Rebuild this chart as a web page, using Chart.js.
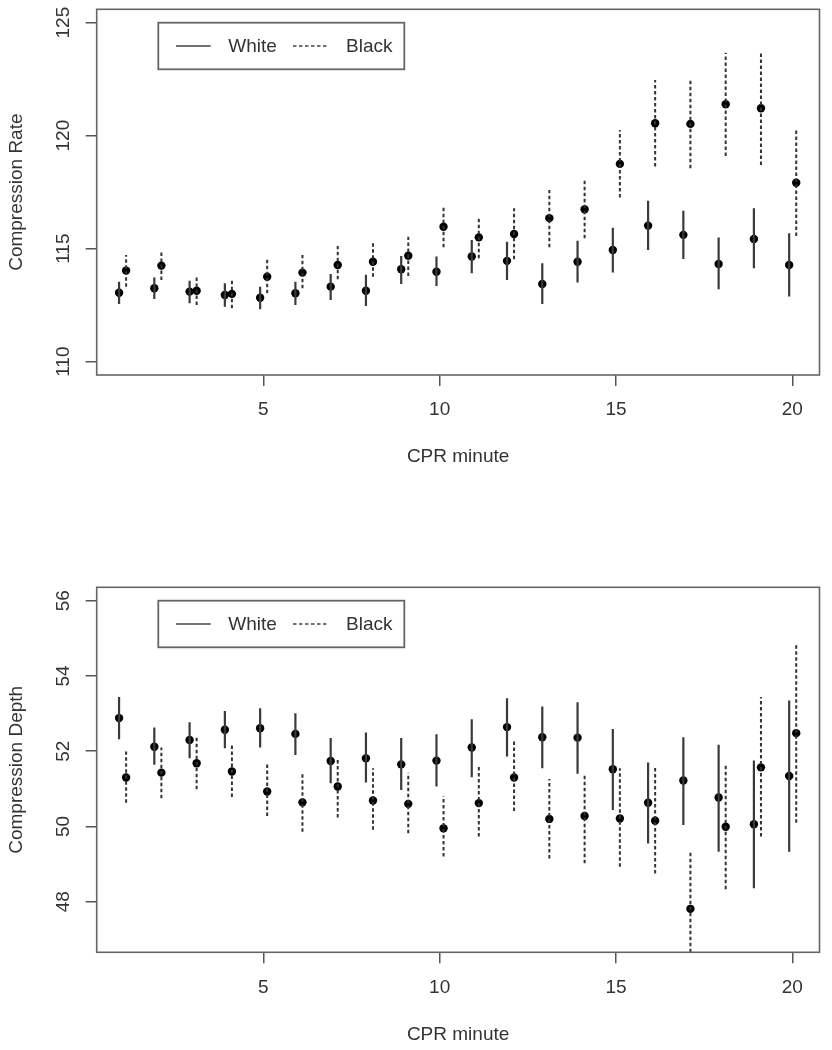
<!DOCTYPE html>
<html><head><meta charset="utf-8">
<script src="https://cdn.jsdelivr.net/npm/chart.js@4"></script>
<style>
body{margin:0;background:#fff;}
.w{position:absolute;left:0;width:832px;height:525px;}
</style>
</head><body>
<div class="w" style="top:0"><canvas id="c1" width="832" height="525"></canvas></div>
<div class="w" style="top:525px"><canvas id="c2" width="832" height="525"></canvas></div>
<script>
// ---------- DATA ----------
const minutes = [1,2,3,4,5,6,7,8,9,10,11,12,13,14,15,16,17,18,19,20];
const seriesNames = ["White", "Black"];

const rateWhite   = [113.05,113.25,113.10,112.95,112.83,113.03,113.32,113.14,114.09,113.98,114.65,114.46,113.44,114.42,114.94,116.02,115.61,114.32,115.43,114.28];
const rateWhiteLo = [112.55,112.77,112.58,112.43,112.32,112.51,112.73,112.46,113.44,113.35,113.91,113.61,112.55,113.50,113.94,114.94,114.54,113.20,114.13,112.88];
const rateWhiteHi = [113.54,113.72,113.58,113.47,113.32,113.54,113.88,113.84,114.68,114.65,115.38,115.31,114.35,115.35,115.93,117.12,116.68,115.49,116.79,115.68];
const rateBlack   = [114.03,114.25,113.14,113.00,113.76,113.94,114.28,114.42,114.69,115.97,115.50,115.65,116.35,116.74,118.75,120.55,120.52,121.39,121.21,117.92];
const rateBlackLo = [113.32,113.61,112.51,112.36,113.03,113.25,113.65,113.76,113.79,115.06,114.58,114.53,115.06,115.46,117.26,118.63,118.56,119.10,118.70,115.56];
const rateBlackHi = [114.72,114.94,113.79,113.69,114.53,114.72,115.12,115.27,115.53,116.89,116.42,116.79,117.60,118.01,120.25,122.46,122.46,123.67,123.67,120.30];

const depthWhite   = [52.88,52.12,52.30,52.57,52.61,52.46,51.74,51.81,51.65,51.75,52.10,52.64,52.37,52.36,51.52,50.63,51.22,50.77,50.06,51.34];
const depthWhiteLo = [52.32,51.64,51.81,52.08,52.10,51.90,51.15,51.17,50.97,51.06,51.31,51.86,51.55,51.40,50.44,49.55,50.04,49.33,48.36,49.33];
const depthWhiteHi = [53.44,52.63,52.77,53.07,53.14,53.01,52.35,52.50,52.35,52.45,52.85,53.41,53.19,53.30,52.59,51.70,52.37,52.17,51.75,53.35];
const depthBlack   = [51.30,51.43,51.68,51.46,50.93,50.64,51.06,50.69,50.60,49.95,50.62,51.30,50.20,50.28,50.21,50.15,47.81,49.99,51.57,52.48];
const depthBlackLo = [50.63,50.75,50.99,50.78,50.28,49.86,50.24,49.91,49.82,49.20,49.73,50.41,49.15,49.02,48.93,48.75,46.50,48.33,49.73,50.10];
const depthBlackHi = [51.99,52.10,52.37,52.15,51.68,51.41,51.81,51.55,51.43,50.81,51.59,52.28,51.26,51.40,51.55,51.59,49.30,51.65,53.44,54.83];

const xTicks = [5, 10, 15, 20];
const rateTicks = [110, 115, 120, 125];
const depthTicks = [48, 50, 52, 54, 56];

// ---------- STYLE / LAYOUT ----------
const FONT_FAMILY = '"Liberation Sans", Arial, Helvetica, sans-serif';
const FS = 19;
const TXT = '#333';
const DODGE_W = -0.09, DODGE_B = 0.11;

function measure(text) {
  const c = document.createElement('canvas').getContext('2d');
  c.font = FS + 'px ' + FONT_FAMILY;
  return c.measureText(text).width;
}

const boxPlugin = {
  id: 'rbox',
  afterDatasetsDraw(chart) {
    const {ctx, chartArea: a} = chart;
    ctx.save();
    ctx.strokeStyle = '#666';
    ctx.lineWidth = 1.6;
    ctx.strokeRect(a.left, a.top, a.right - a.left, a.bottom - a.top);
    ctx.restore();
  }
};

const legendPlugin = {
  id: 'rlegend',
  afterDraw(chart) {
    const {ctx, chartArea: a} = chart;
    const x0 = a.left + 61.6, y0 = a.top + 13.4, w = 246, h = 46.6;
    const cy = y0 + h / 2;
    ctx.save();
    ctx.fillStyle = '#fff';
    ctx.fillRect(x0, y0, w, h);
    ctx.strokeStyle = '#666';
    ctx.lineWidth = 1.8;
    ctx.strokeRect(x0, y0, w, h);
    ctx.strokeStyle = '#444';
    ctx.lineWidth = 1.6;
    ctx.beginPath(); ctx.moveTo(x0 + 17.7, cy); ctx.lineTo(x0 + 52.4, cy); ctx.stroke();
    ctx.setLineDash([3.5, 2.5]);
    ctx.beginPath(); ctx.moveTo(x0 + 134.7, cy); ctx.lineTo(x0 + 168.7, cy); ctx.stroke();
    ctx.setLineDash([]);
    ctx.fillStyle = TXT;
    ctx.font = FS + 'px ' + FONT_FAMILY;
    ctx.textBaseline = 'middle';
    ctx.textAlign = 'left';
    ctx.fillText(seriesNames[0], x0 + 70, cy + 1);
    ctx.fillText(seriesNames[1], x0 + 187.7, cy + 1);
    ctx.restore();
  }
};

function errData(lo, hi, dodge) {
  const out = [];
  minutes.forEach((m, i) => {
    out.push({x: m + dodge, y: lo[i]});
    out.push({x: m + dodge, y: hi[i]});
    out.push({x: m + dodge, y: null});
  });
  return out;
}
function ptData(vals, dodge) {
  return minutes.map((m, i) => ({x: m + dodge, y: vals[i]}));
}

function makeChart(id, o) {
  const yTickVals = o.yTicks;
  const widest = Math.max(...yTickVals.map(v => measure(String(v))));
  const yTickPad = 96.7 - 11 - 63.3 - widest / 2;
  new Chart(document.getElementById(id), {
    type: 'scatter',
    data: {
      datasets: [
        {label: seriesNames[0] + ' CI', data: errData(o.wLo, o.wHi, DODGE_W), showLine: true, spanGaps: false,
         borderColor: '#3a3a3a', borderWidth: 2.2, pointRadius: 0, pointHoverRadius: 0},
        {label: seriesNames[1] + ' CI', data: errData(o.bLo, o.bHi, DODGE_B), showLine: true, spanGaps: false,
         borderColor: '#333', borderWidth: 2, borderDash: [3.5, 2.5], pointRadius: 0, pointHoverRadius: 0},
        {label: seriesNames[0], data: ptData(o.w, DODGE_W), showLine: false,
         pointRadius: 4.2, backgroundColor: '#000', borderColor: '#000', borderWidth: 0},
        {label: seriesNames[1], data: ptData(o.b, DODGE_B), showLine: false,
         pointRadius: 4.2, backgroundColor: '#000', borderColor: '#000', borderWidth: 0}
      ]
    },
    options: {
      responsive: false,
      animation: false,
      devicePixelRatio: 1,
      layout: {padding: {left: 0, right: 12.5, top: o.padTop, bottom: o.padBottom}},
      plugins: {legend: {display: false}, tooltip: {enabled: false}},
      scales: {
        x: {
          type: 'linear', position: 'bottom',
          min: 0.276, max: 20.77,
          afterBuildTicks: s => { s.ticks = xTicks.map(v => ({value: v})); },
          afterFit: s => { s.height = o.xH; s.paddingLeft = 0; s.paddingRight = 0; },
          grid: {display: true, drawOnChartArea: false, drawTicks: true, tickLength: 11, color: '#555', lineWidth: 1.5},
          border: {display: false},
          ticks: {padding: o.xTickPad, font: {family: FONT_FAMILY, size: FS}, color: TXT, maxRotation: 0, autoSkip: false},
          title: {display: true, text: 'CPR minute', font: {family: FONT_FAMILY, size: FS}, color: TXT, padding: {top: 0, bottom: 0}}
        },
        y: {
          type: 'linear', position: 'left',
          min: o.yMin, max: o.yMax,
          afterBuildTicks: s => { s.ticks = yTickVals.map(v => ({value: v})); },
          afterFit: s => { s.width = 96.7; s.paddingTop = 0; s.paddingBottom = 0; },
          grid: {display: true, drawOnChartArea: false, drawTicks: true, tickLength: 11, color: '#555', lineWidth: 1.5},
          border: {display: false},
          ticks: {padding: yTickPad, minRotation: 90, maxRotation: 90, crossAlign: 'center', autoSkip: false,
                  font: {family: FONT_FAMILY, size: FS}, color: TXT},
          title: {display: true, text: o.yTitle, font: {family: FONT_FAMILY, size: FS}, color: TXT, padding: {top: 5.3, bottom: 0}}
        }
      }
    },
    plugins: [boxPlugin, legendPlugin]
  });
}

makeChart('c1', {
  w: rateWhite, wLo: rateWhiteLo, wHi: rateWhiteHi,
  b: rateBlack, bLo: rateBlackLo, bHi: rateBlackHi,
  yTicks: rateTicks, yMin: 109.41, yMax: 125.59, yTitle: 'Compression Rate',
  padTop: 9.3, padBottom: 56.9, xH: 93.1, xTickPad: 12.6
});
makeChart('c2', {
  w: depthWhite, wLo: depthWhiteLo, wHi: depthWhiteHi,
  b: depthBlack, bLo: depthBlackLo, bHi: depthBlackHi,
  yTicks: depthTicks, yMin: 46.655, yMax: 56.356, yTitle: 'Compression Depth',
  padTop: 62.3, padBottom: 3.6, xH: 94.1, xTickPad: 13.2
});
</script>
</body></html>
